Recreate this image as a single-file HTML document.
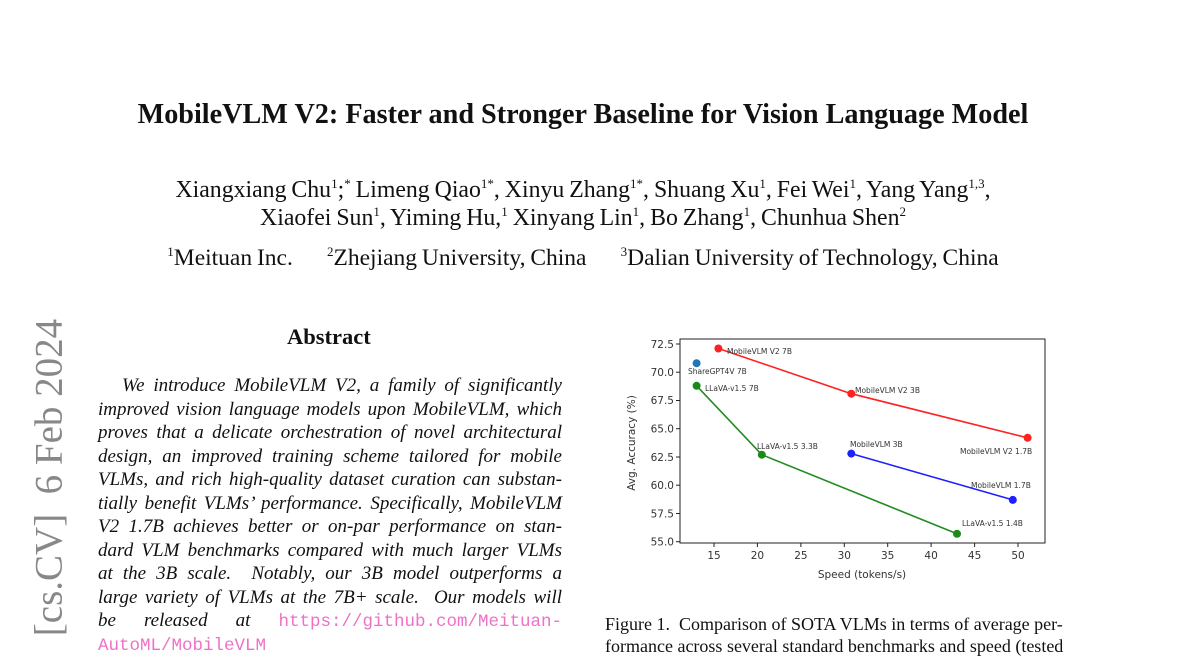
<!DOCTYPE html>
<html><head><meta charset="utf-8"><style>
body{margin:0;width:1200px;height:648px;background:#fff;overflow:hidden;position:relative;font-family:"Liberation Serif",serif;color:#111}
.a{position:absolute;white-space:nowrap}
.t{left:0;width:1166px;text-align:center}
.ab{position:absolute;left:98px;width:464px;font-style:italic;font-size:19px;text-align:justify;text-align-last:justify;white-space:nowrap;line-height:20px}
sup{font-size:13px}
.mono{font-family:"Liberation Mono",monospace;font-style:normal;color:#f070c8;font-size:17.5px}
</style></head><body>
<div class="a t" style="top:99px;font-size:28.2px;font-weight:bold">MobileVLM V2: Faster and Stronger Baseline for Vision Language Model</div>
<div class="a t" style="top:176px;font-size:23.8px;word-spacing:-1px">Xiangxiang Chu<sup>1</sup>;<sup>*</sup> Limeng Qiao<sup>1*</sup>, Xinyu Zhang<sup>1*</sup>, Shuang Xu<sup>1</sup>, Fei Wei<sup>1</sup>, Yang Yang<sup>1,3</sup>,</div>
<div class="a t" style="top:204px;font-size:23.8px;word-spacing:-1px">Xiaofei Sun<sup>1</sup>, Yiming Hu,<sup>1</sup> Xinyang Lin<sup>1</sup>, Bo Zhang<sup>1</sup>, Chunhua Shen<sup>2</sup></div>
<div class="a t" style="top:244px;font-size:23.5px;word-spacing:-1px"><sup>1</sup>Meituan Inc. &nbsp;&nbsp;&nbsp;&nbsp;&nbsp; <sup>2</sup>Zhejiang University, China &nbsp;&nbsp;&nbsp;&nbsp;&nbsp; <sup>3</sup>Dalian University of Technology, China</div>
<div class="a" style="left:-110px;top:455px;width:318px;text-align:center;transform:rotate(-90deg);font-size:39px;color:#888">[cs.CV]&nbsp; 6 Feb 2024</div>
<div class="a" style="left:287px;top:324px;font-size:22.5px;font-weight:bold">Abstract</div>
<div class="ab" style="top:376px;padding-left:24px;width:440px">We introduce MobileVLM V2, a family of significantly</div>
<div class="ab" style="top:399.5px">improved vision language models upon MobileVLM, which</div>
<div class="ab" style="top:423px">proves that a delicate orchestration of novel architectural</div>
<div class="ab" style="top:446.5px">design, an improved training scheme tailored for mobile</div>
<div class="ab" style="top:470px">VLMs, and rich high-quality dataset curation can substan-</div>
<div class="ab" style="top:493.5px">tially benefit VLMs’ performance. Specifically, MobileVLM</div>
<div class="ab" style="top:517px">V2 1.7B achieves better or on-par performance on stan-</div>
<div class="ab" style="top:540.5px">dard VLM benchmarks compared with much larger VLMs</div>
<div class="ab" style="top:564px">at the 3B scale. &nbsp;Notably, our 3B model outperforms a</div>
<div class="ab" style="top:587.5px">large variety of VLMs at the 7B+ scale. &nbsp;Our models will</div>
<div class="ab" style="top:611px">be released at <span class="mono">https://github.com/Meituan-</span></div>
<div class="ab" style="top:634.5px;text-align-last:left"><span class="mono">AutoML/MobileVLM</span></div>
<div class="a" style="left:605px;top:614px;font-size:18px">Figure 1. &nbsp;Comparison of SOTA VLMs in terms of average per-</div>
<div class="a" style="left:605px;top:636px;font-size:18px">formance across several standard benchmarks and speed (tested</div>
<svg class="a" style="left:0;top:0" width="1200" height="648" font-family="DejaVu Sans, sans-serif">
<rect x="680" y="339" width="365" height="204" fill="none" stroke="#222" stroke-width="1"/>
<g font-size="10.5" fill="#333" text-anchor="middle">
<g stroke="#222"><line x1="714" y1="543" x2="714" y2="547"/><line x1="757.4" y1="543" x2="757.4" y2="547"/><line x1="800.9" y1="543" x2="800.9" y2="547"/><line x1="844.3" y1="543" x2="844.3" y2="547"/><line x1="887.7" y1="543" x2="887.7" y2="547"/><line x1="931.1" y1="543" x2="931.1" y2="547"/><line x1="974.6" y1="543" x2="974.6" y2="547"/><line x1="1018" y1="543" x2="1018" y2="547"/></g>
<text x="714" y="559">15</text><text x="757.4" y="559">20</text><text x="800.9" y="559">25</text><text x="844.3" y="559">30</text><text x="887.7" y="559">35</text><text x="931.1" y="559">40</text><text x="974.6" y="559">45</text><text x="1018" y="559">50</text>
<text x="862" y="578">Speed (tokens/s)</text>
</g>
<g font-size="10.5" fill="#333" text-anchor="end">
<g stroke="#222"><line x1="676" y1="344" x2="680" y2="344"/><line x1="676" y1="372.2" x2="680" y2="372.2"/><line x1="676" y1="400.5" x2="680" y2="400.5"/><line x1="676" y1="428.7" x2="680" y2="428.7"/><line x1="676" y1="457" x2="680" y2="457"/><line x1="676" y1="485.2" x2="680" y2="485.2"/><line x1="676" y1="513.5" x2="680" y2="513.5"/><line x1="676" y1="541.7" x2="680" y2="541.7"/></g>
<text x="674" y="348">72.5</text><text x="674" y="376">70.0</text><text x="674" y="404">67.5</text><text x="674" y="432.5">65.0</text><text x="674" y="461">62.5</text><text x="674" y="489">60.0</text><text x="674" y="517.5">57.5</text><text x="674" y="545.5">55.0</text>
<text transform="translate(635,443) rotate(-90)" text-anchor="middle">Avg. Accuracy (%)</text>
</g>
<polyline points="718.4,348.5 851.3,393.7 1027.6,437.8" fill="none" stroke="#ff2020" stroke-width="1.6"/>
<polyline points="696.6,385.8 761.8,454.7 957,533.8" fill="none" stroke="#228b22" stroke-width="1.6"/>
<polyline points="851.3,453.6 1012.8,499.9" fill="none" stroke="#2020ff" stroke-width="1.6"/>
<g fill="#ff2020"><circle cx="718.4" cy="348.5" r="4"/><circle cx="851.3" cy="393.7" r="4"/><circle cx="1027.6" cy="437.8" r="4"/></g>
<g fill="#1a8a1a"><circle cx="696.6" cy="385.8" r="4"/><circle cx="761.8" cy="454.7" r="4"/><circle cx="957" cy="533.8" r="4"/></g>
<g fill="#2020ff"><circle cx="851.3" cy="453.6" r="4"/><circle cx="1012.8" cy="499.9" r="4"/></g>
<circle cx="696.6" cy="363.2" r="4" fill="#1f77b4"/>
<g font-size="7.5" fill="#333">
<text x="727" y="354">MobileVLM V2 7B</text>
<text x="688" y="374">ShareGPT4V 7B</text>
<text x="705" y="391">LLaVA-v1.5 7B</text>
<text x="855" y="393">MobileVLM V2 3B</text>
<text x="757" y="449">LLaVA-v1.5 3.3B</text>
<text x="850" y="447">MobileVLM 3B</text>
<text x="960" y="454">MobileVLM V2 1.7B</text>
<text x="971" y="488">MobileVLM 1.7B</text>
<text x="962" y="526">LLaVA-v1.5 1.4B</text>
</g>
</svg>
</body></html>
